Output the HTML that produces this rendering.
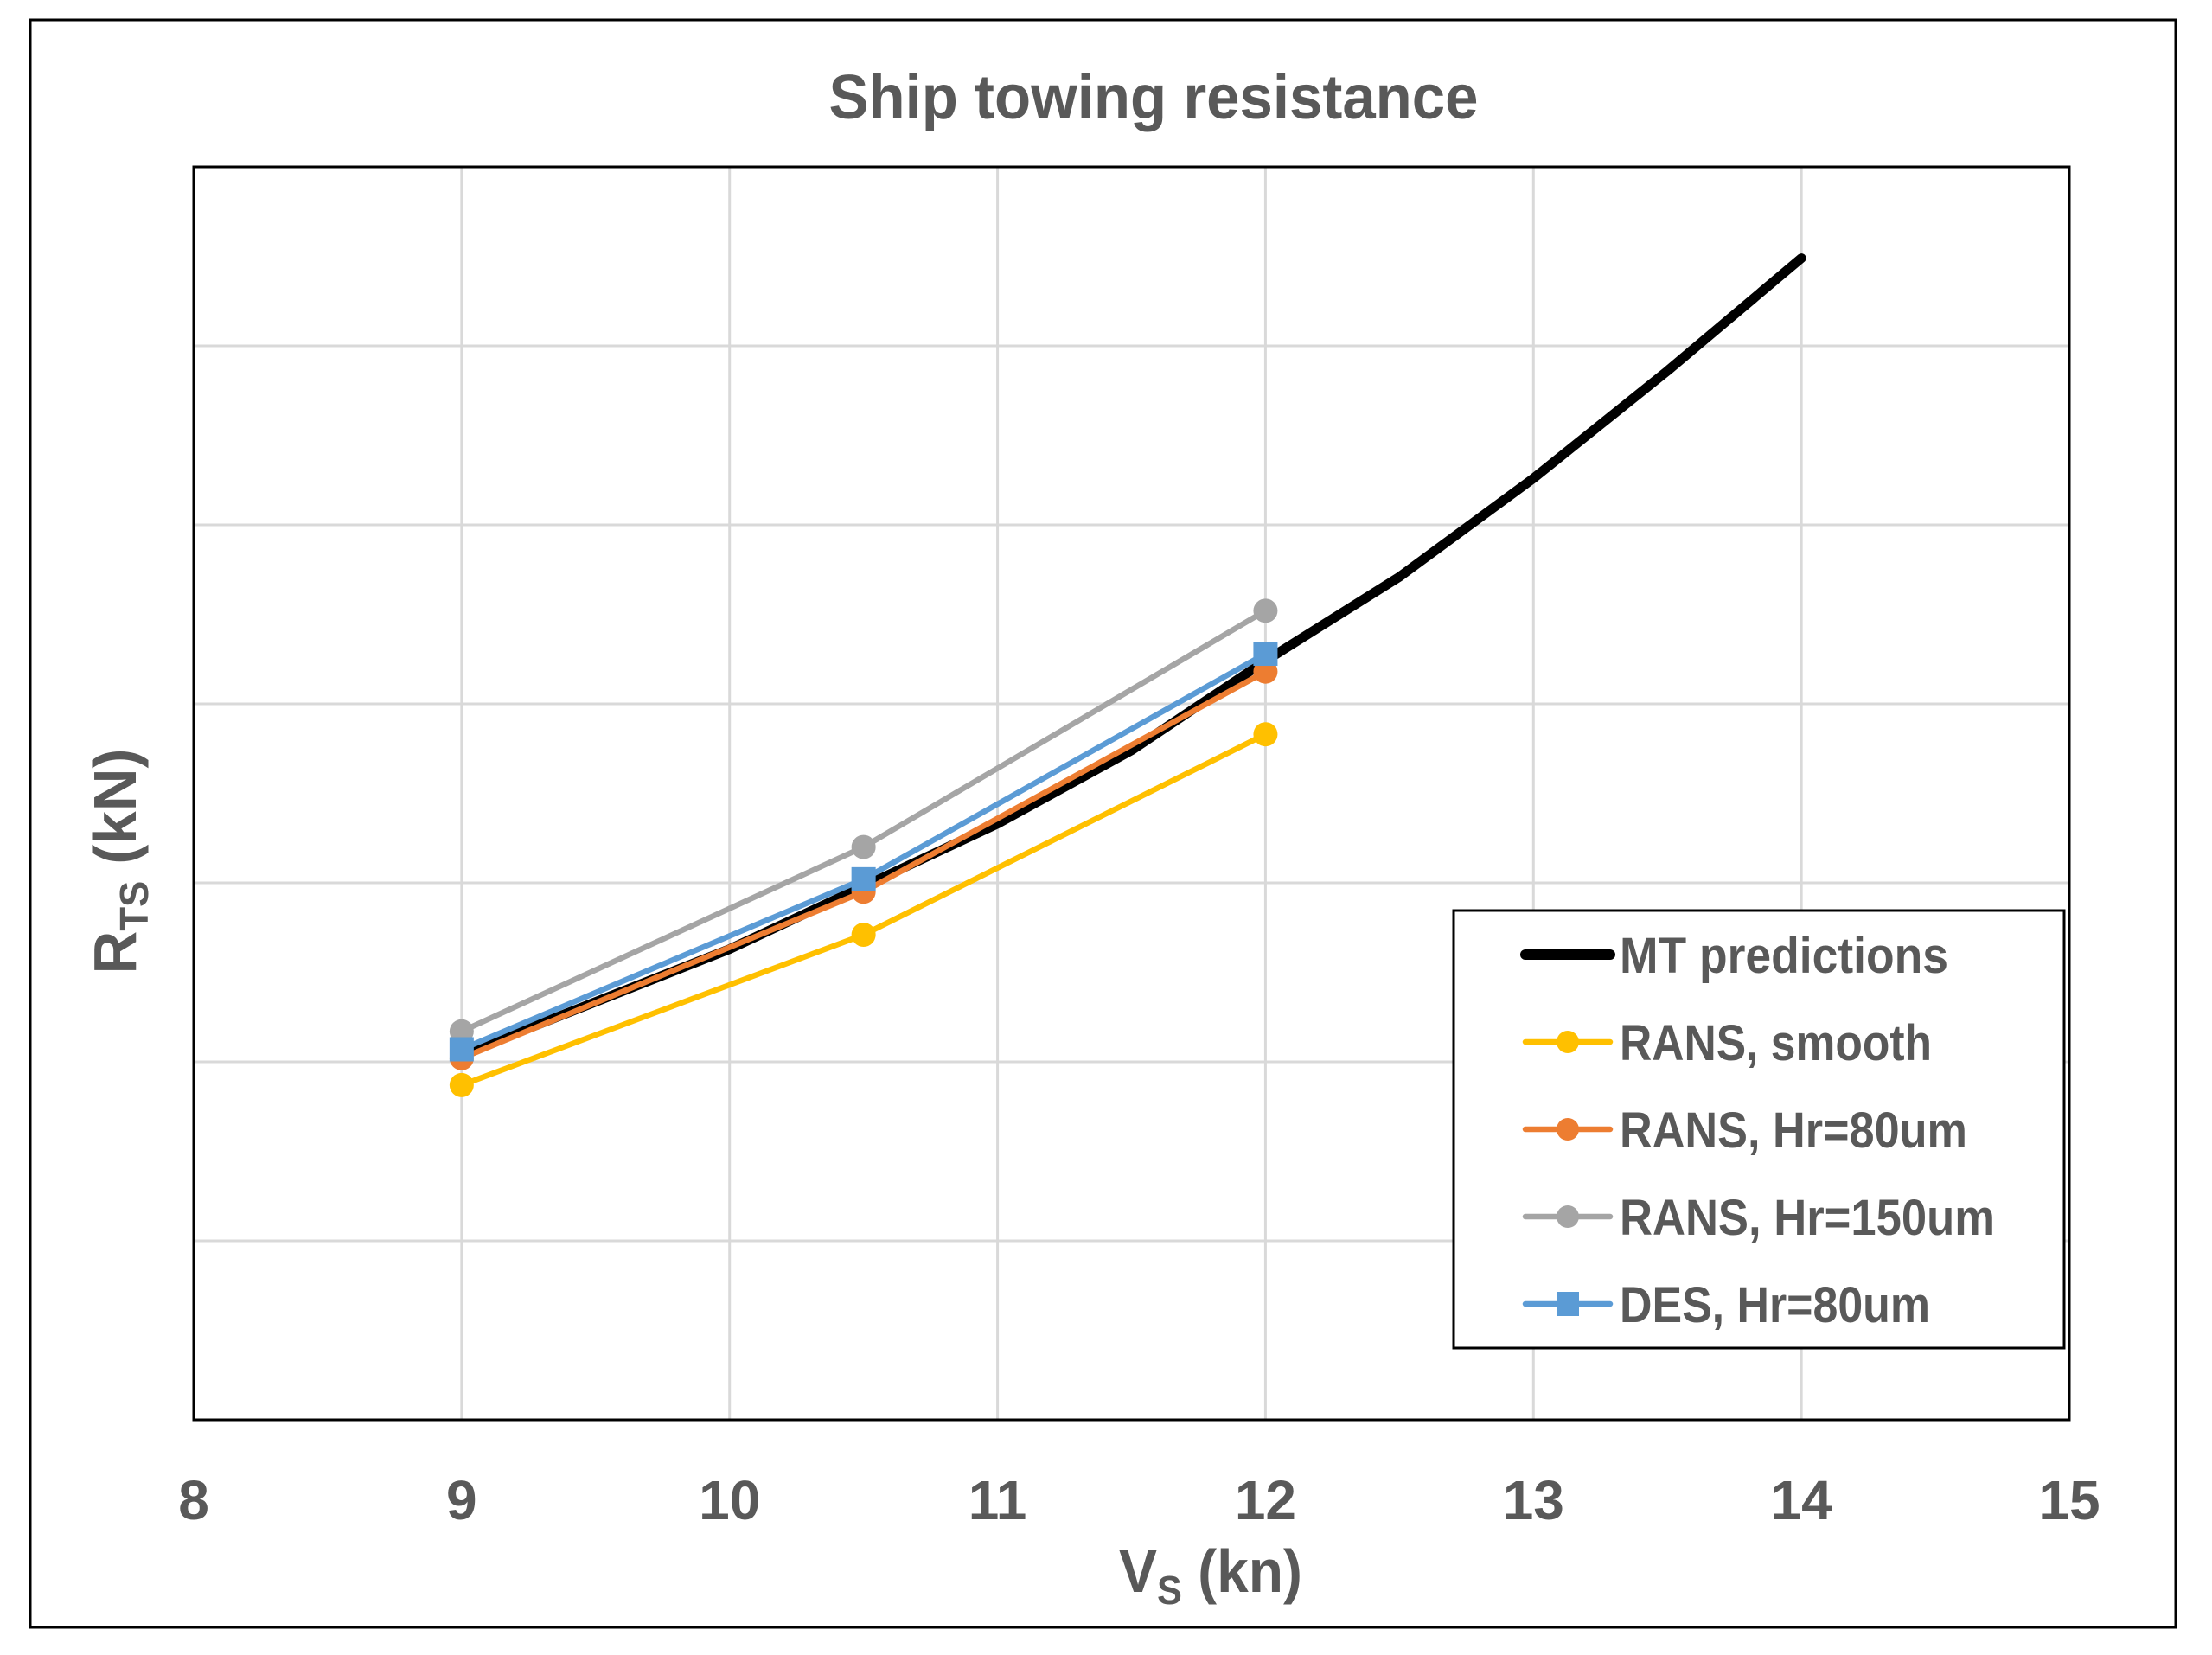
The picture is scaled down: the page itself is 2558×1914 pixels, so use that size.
<!DOCTYPE html>
<html><head><meta charset="utf-8"><style>
html,body{margin:0;padding:0;background:#fff;}
svg{display:block;font-family:"Liberation Sans",sans-serif;font-weight:bold;}
</style></head><body>
<svg id="chart" width="2558" height="1914" viewBox="0 0 2558 1914">
<rect x="35" y="23" width="2481" height="1859" fill="#fff" stroke="#000" stroke-width="3"/>
<text x="1334" y="137" text-anchor="middle" font-size="72" fill="#595959" textLength="751" lengthAdjust="spacingAndGlyphs">Ship towing resistance</text>
<g id="grid"></g>
<g id="series"></g>
<rect x="224" y="193" width="2169" height="1449" fill="none" stroke="#000" stroke-width="3"/>
<g id="xticks"></g>
<text x="1400" y="1841" text-anchor="middle" font-size="70" fill="#595959" textLength="212" lengthAdjust="spacingAndGlyphs">V<tspan font-size="46" dy="14">S</tspan><tspan dy="-14"> (kn)</tspan></text>
<text transform="translate(157,996) rotate(-90)" text-anchor="middle" font-size="70" fill="#595959" textLength="261" lengthAdjust="spacingAndGlyphs">R<tspan font-size="46" dy="14">TS</tspan><tspan dy="-14"> (kN)</tspan></text>
<g id="legend"></g>
</svg>
<script>
const xTicks=[8,9,10,11,12,13,14,15];
const yGrid=[0,1,2,3,4,5,6,7];
const mtX=[9,10,10.5,11,11.5,12,12.5,13,13.5,14];
const mtY=[2.04,2.63,2.98,3.33,3.74,4.24,4.71,5.26,5.86,6.49];
const cfdX=[9,10.5,12];
const smoothY=[1.87,2.71,3.83];
const hr80Y=[2.02,2.95,4.18];
const hr150Y=[2.17,3.20,4.52];
const desY=[2.07,3.02,4.28];
const legendLabels=["MT predictions","RANS, smooth","RANS, Hr=80um","RANS, Hr=150um","DES, Hr=80um"];
const legendWidths=[380,361,402,434,359];

const NS="http://www.w3.org/2000/svg";
const PL=224,PR=2393,PT=193,PB=1642;
const xs=v=>PL+(v-8)/(15-8)*(PR-PL);
const ys=v=>PB-(v-0)/(7-0)*(PB-PT);
function mk(tag,attrs,parent){const e=document.createElementNS(NS,tag);for(const k in attrs)e.setAttribute(k,attrs[k]);parent.appendChild(e);return e;}
const grid=document.getElementById('grid');
xTicks.forEach(t=>{if(t>8&&t<15){const l=mk('line',{x1:xs(t),x2:xs(t),y1:PT,y2:PB,stroke:'#d9d9d9','stroke-width':3},grid);

}});
yGrid.forEach(t=>{if(t>0&&t<7){const l=mk('line',{x1:PL,x2:PR,y1:ys(t),y2:ys(t),stroke:'#d9d9d9','stroke-width':3},grid);

}});
const xt=document.getElementById('xticks');
xTicks.forEach(t=>{const e=mk('text',{x:xs(t),y:1757,'text-anchor':'middle','font-size':64,fill:'#595959'},xt);e.textContent=t;

});
const S=document.getElementById('series');
const pts=(X,Y)=>X.map((x,i)=>xs(x)+','+ys(Y[i])).join(' ');
const series=[
 {X:cfdX,Y:smoothY,c:'#ffc000',m:'circle',n:'rans-smooth'},
 {X:cfdX,Y:hr150Y,c:'#a5a5a5',m:'circle',n:'rans-hr150'},
 {X:mtX,Y:mtY,c:'#000',m:null,n:'mt-predictions',w:11},
 {X:cfdX,Y:hr80Y,c:'#ed7d31',m:'circle',n:'rans-hr80'},
 {X:cfdX,Y:desY,c:'#5b9bd5',m:'square',n:'des-hr80'}];
series.forEach(s=>{
 const g=mk('g',{},S);
 
 
 const p=mk('polyline',{points:pts(s.X,s.Y),fill:'none',stroke:s.c,'stroke-width':s.w||6.5,'stroke-linejoin':'round','stroke-linecap':'round'},g);
 
 
 if(s.m){s.X.forEach((x,i)=>{let e;
  if(s.m==='circle')e=mk('circle',{cx:xs(x),cy:ys(s.Y[i]),r:14,fill:s.c},g);
  else e=mk('rect',{x:xs(x)-14,y:ys(s.Y[i])-14,width:28,height:28,fill:s.c},g);
  
  });}
});
const L=document.getElementById('legend');
const box=mk('rect',{x:1681,y:1053,width:706,height:506,fill:'#fff',stroke:'#000','stroke-width':3},L);


const lc=['#000','#ffc000','#ed7d31','#a5a5a5','#5b9bd5'];
const lm=[null,'circle','circle','circle','square'];
legendLabels.forEach((lab,i)=>{
 const y=1104+i*101;
 const g=mk('g',{},L);
 
 
 mk('line',{x1:1764,x2:1862,y1:y,y2:y,stroke:lc[i],'stroke-width':i===0?12:6.5,'stroke-linecap':'round'},g);
 if(lm[i]==='circle')mk('circle',{cx:1813,cy:y,r:13,fill:lc[i]},g);
 if(lm[i]==='square')mk('rect',{x:1800,y:y-14,width:26,height:28,fill:lc[i]},g);
 const t=mk('text',{x:1873,y:y+21,'font-size':58,fill:'#595959',textLength:legendWidths[i],lengthAdjust:'spacingAndGlyphs'},g);t.textContent=lab;
 
 
});
</script>
</body></html>
